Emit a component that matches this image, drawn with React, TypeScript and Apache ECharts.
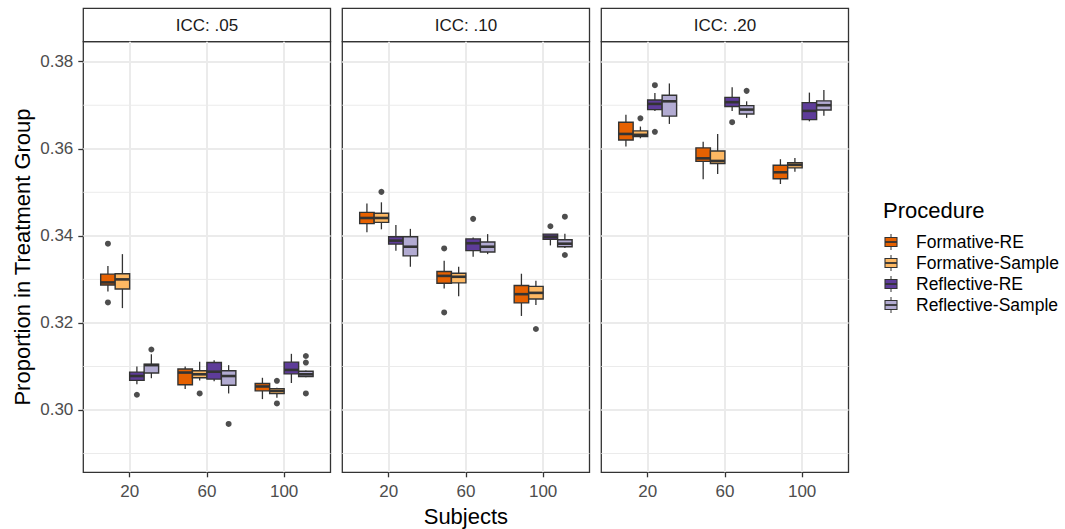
import React, { useEffect, useRef } from "react";
import * as echarts from "echarts";

const panelTitles = ["ICC: .05", "ICC: .10", "ICC: .20"];
const subjects = ["20", "60", "100"];
const procedures = ["Formative-RE", "Formative-Sample", "Reflective-RE", "Reflective-Sample"];
const procColors = ["#E66101", "#FDB863", "#5E3C99", "#B2ABD2"];
const yTicks = [0.3, 0.32, 0.34, 0.36, 0.38];
const yMinorTicks = [0.29, 0.31, 0.33, 0.35, 0.37];

// [lower whisker, Q1, median, Q3, upper whisker] for Subjects 20, 60, 100
const icc05FormativeRE = [
  [0.3272, 0.3287, 0.3293, 0.3312, 0.3331],
  [0.3048, 0.3058, 0.3086, 0.3094, 0.31],
  [0.3025, 0.3044, 0.3054, 0.3061, 0.3074],
];
const icc05FormativeSample = [
  [0.3234, 0.3278, 0.33, 0.3313, 0.3358],
  [0.3068, 0.3074, 0.3082, 0.309, 0.3111],
  [0.3028, 0.3038, 0.3044, 0.3049, 0.3051],
];
const icc05ReflectiveRE = [
  [0.3059, 0.3068, 0.3078, 0.3087, 0.31],
  [0.3066, 0.3071, 0.3088, 0.3109, 0.3114],
  [0.3062, 0.3083, 0.3092, 0.311, 0.3129],
];
const icc05ReflectiveSample = [
  [0.3073, 0.3085, 0.3103, 0.3105, 0.3128],
  [0.3038, 0.3057, 0.3078, 0.309, 0.3103],
  [0.3075, 0.3077, 0.3082, 0.3089, 0.3091],
];
// [procedure index, subject index, value]
const icc05Outliers = [
  [0, 0, 0.3382], [0, 0, 0.3247],
  [1, 1, 0.3038], [1, 2, 0.3067], [1, 2, 0.3015],
  [2, 0, 0.3035],
  [3, 0, 0.3139], [3, 1, 0.2968], [3, 2, 0.3124], [3, 2, 0.3109], [3, 2, 0.3038],
];

const icc10FormativeRE = [
  [0.3408, 0.3428, 0.3441, 0.3454, 0.3474],
  [0.3279, 0.3291, 0.3308, 0.3318, 0.3343],
  [0.3216, 0.3246, 0.3266, 0.3286, 0.3313],
];
const icc10FormativeSample = [
  [0.3415, 0.3431, 0.3441, 0.3452, 0.3477],
  [0.3261, 0.3292, 0.3306, 0.3314, 0.3329],
  [0.3241, 0.3255, 0.3269, 0.3284, 0.3297],
];
const icc10ReflectiveRE = [
  [0.3366, 0.3381, 0.3389, 0.3398, 0.3425],
  [0.3352, 0.3366, 0.3383, 0.3393, 0.3396],
  [0.3378, 0.3392, 0.3398, 0.3404, 0.3404],
];
const icc10ReflectiveSample = [
  [0.3329, 0.3354, 0.3375, 0.3398, 0.3416],
  [0.3358, 0.3363, 0.3375, 0.3386, 0.3404],
  [0.3372, 0.3375, 0.3382, 0.3391, 0.3405],
];
const icc10Outliers = [
  [0, 1, 0.3371], [0, 1, 0.3224],
  [1, 0, 0.3501], [1, 2, 0.3186],
  [2, 1, 0.3439], [2, 2, 0.3422],
  [3, 2, 0.3444], [3, 2, 0.3356],
];

const icc20FormativeRE = [
  [0.3605, 0.362, 0.3634, 0.3661, 0.3678],
  [0.353, 0.3571, 0.3578, 0.3602, 0.3616],
  [0.3519, 0.3531, 0.3546, 0.3562, 0.3576],
];
const icc20FormativeSample = [
  [0.3624, 0.3628, 0.3632, 0.3641, 0.3651],
  [0.3542, 0.3566, 0.3572, 0.3595, 0.3634],
  [0.3547, 0.3556, 0.3563, 0.3568, 0.3579],
];
const icc20ReflectiveRE = [
  [0.3687, 0.369, 0.3703, 0.3712, 0.3728],
  [0.3687, 0.3697, 0.3707, 0.3718, 0.3741],
  [0.3663, 0.3667, 0.3687, 0.3706, 0.3729],
];
const icc20ReflectiveSample = [
  [0.3657, 0.3675, 0.3709, 0.3723, 0.375],
  [0.3671, 0.368, 0.369, 0.3699, 0.3709],
  [0.3676, 0.3689, 0.37, 0.371, 0.3735],
];
const icc20Outliers = [
  [1, 0, 0.367],
  [2, 0, 0.3746], [2, 0, 0.3639], [2, 1, 0.3661],
  [3, 1, 0.3733],
];

const panelBoxes = [
  [icc05FormativeRE, icc05FormativeSample, icc05ReflectiveRE, icc05ReflectiveSample],
  [icc10FormativeRE, icc10FormativeSample, icc10ReflectiveRE, icc10ReflectiveSample],
  [icc20FormativeRE, icc20FormativeSample, icc20ReflectiveRE, icc20ReflectiveSample],
];
const panelOutliers = [icc05Outliers, icc10Outliers, icc20Outliers];

// layout
const FONT = "'Liberation Sans', Arial, Helvetica, sans-serif";
const PANEL_LEFTS = [83.3, 342.3, 601.3];
const PANEL_W = 247.2;
const GRID_TOP = 41.7;
const GRID_H = 430.6;
const STRIP_TOP = 8.3;
const X_MIN = 0.4;
const X_MAX = 3.6;
const Y_MIN = 0.28569;
const Y_MAX = 0.38459;
const BOX_W = 0.1875;
const dodge = (p: number) => (p - 1.5) * BOX_W;
const LINE = "#333333";

function buildOption() {
  const grids: any[] = [];
  const xAxes: any[] = [];
  const yAxes: any[] = [];
  const series: any[] = [];
  const graphics: any[] = [];

  panelTitles.forEach((title, i) => {
    grids.push({
      left: PANEL_LEFTS[i],
      top: GRID_TOP,
      width: PANEL_W,
      height: GRID_H,
      show: true,
      borderColor: LINE,
      borderWidth: 1.3,
      backgroundColor: "transparent",
    });
    xAxes.push({
      type: "value",
      gridIndex: i,
      min: X_MIN,
      max: X_MAX,
      axisLine: { show: false },
      axisTick: {
        show: true,
        customValues: [1, 2, 3],
        length: 5,
        lineStyle: { color: LINE, width: 1.3 },
      },
      axisLabel: {
        customValues: [1, 2, 3],
        formatter: (v: number) => subjects[Math.round(v) - 1],
        color: "#4D4D4D",
        fontSize: 17,
        fontFamily: FONT,
        margin: 11,
      },
      splitLine: { show: true, lineStyle: { color: "#EBEBEB", width: 2 } },
    });
    yAxes.push({
      type: "value",
      gridIndex: i,
      min: Y_MIN,
      max: Y_MAX,
      axisLine: { show: false },
      axisTick: {
        show: i === 0,
        customValues: yTicks,
        length: 5,
        lineStyle: { color: LINE, width: 1.3 },
      },
      axisLabel: {
        show: i === 0,
        customValues: yTicks,
        formatter: (v: number) => v.toFixed(2),
        color: "#4D4D4D",
        fontSize: 17,
        fontFamily: FONT,
        margin: 10,
      },
      splitLine: { show: true, lineStyle: { color: "#EBEBEB", width: 2 } },
    });

    // minor horizontal grid lines
    series.push({
      type: "custom",
      xAxisIndex: i,
      yAxisIndex: i,
      z: 1,
      silent: true,
      data: yMinorTicks.map((v) => [v]),
      renderItem: (params: any, api: any) => {
        const v = api.value(0);
        const a = api.coord([X_MIN, v]);
        const b = api.coord([X_MAX, v]);
        return {
          type: "line",
          shape: { x1: a[0], y1: a[1], x2: b[0], y2: b[1] },
          style: { stroke: "#EBEBEB", lineWidth: 1 },
        };
      },
    });

    // boxes
    const boxData: any[] = [];
    panelBoxes[i].forEach((proc, p) => {
      proc.forEach((st, s) => {
        boxData.push([s + 1 + dodge(p), st[0], st[1], st[2], st[3], st[4], p]);
      });
    });
    series.push({
      type: "custom",
      xAxisIndex: i,
      yAxisIndex: i,
      z: 3,
      data: boxData,
      encode: { x: 0, y: [1, 5] },
      renderItem: (params: any, api: any) => {
        const x = api.value(0);
        const p = api.value(6);
        const lo = api.coord([x, api.value(1)]);
        const q1 = api.coord([x, api.value(2)]);
        const md = api.coord([x, api.value(3)]);
        const q3 = api.coord([x, api.value(4)]);
        const hi = api.coord([x, api.value(5)]);
        const hw = api.size([BOX_W, 0])[0] / 2;
        const cx = lo[0];
        return {
          type: "group",
          children: [
            {
              type: "line",
              shape: { x1: cx, y1: q3[1], x2: cx, y2: hi[1] },
              style: { stroke: LINE, lineWidth: 1.3 },
            },
            {
              type: "line",
              shape: { x1: cx, y1: q1[1], x2: cx, y2: lo[1] },
              style: { stroke: LINE, lineWidth: 1.3 },
            },
            {
              type: "rect",
              shape: { x: cx - hw, y: q3[1], width: hw * 2, height: q1[1] - q3[1] },
              style: { fill: procColors[p], stroke: LINE, lineWidth: 1.4 },
            },
            {
              type: "line",
              shape: { x1: cx - hw, y1: md[1], x2: cx + hw, y2: md[1] },
              style: { stroke: LINE, lineWidth: 2.6 },
            },
          ],
        };
      },
    });

    // outliers
    series.push({
      type: "scatter",
      xAxisIndex: i,
      yAxisIndex: i,
      z: 4,
      symbol: "circle",
      symbolSize: 6,
      itemStyle: { color: "#222222" },
      data: panelOutliers[i].map((o) => [o[1] + 1 + dodge(o[0]), o[2]]),
    });

    // strip
    graphics.push({
      type: "rect",
      shape: { x: PANEL_LEFTS[i], y: STRIP_TOP, width: PANEL_W, height: GRID_TOP - STRIP_TOP },
      style: { fill: "#FFFFFF", stroke: LINE, lineWidth: 1.3 },
    });
    graphics.push({
      type: "text",
      x: PANEL_LEFTS[i] + PANEL_W / 2,
      y: (STRIP_TOP + GRID_TOP) / 2,
      style: {
        text: title,
        fill: "#1A1A1A",
        fontSize: 17,
        fontFamily: FONT,
        align: "center",
        verticalAlign: "middle",
      },
    });
  });

  // axis titles
  graphics.push({
    type: "text",
    x: (PANEL_LEFTS[0] + PANEL_LEFTS[2] + PANEL_W) / 2,
    y: 516,
    style: {
      text: "Subjects",
      fill: "#000000",
      fontSize: 22,
      fontFamily: FONT,
      align: "center",
      verticalAlign: "middle",
    },
  });
  graphics.push({
    type: "text",
    x: 22,
    y: GRID_TOP + GRID_H / 2,
    rotation: Math.PI / 2,
    style: {
      text: "Proportion in Treatment Group",
      fill: "#000000",
      fontSize: 22,
      fontFamily: FONT,
      align: "center",
      verticalAlign: "middle",
    },
  });

  // legend
  graphics.push({
    type: "text",
    x: 883,
    y: 210,
    style: {
      text: "Procedure",
      fill: "#000000",
      fontSize: 22,
      fontFamily: FONT,
      align: "left",
      verticalAlign: "middle",
    },
  });
  procedures.forEach((name, k) => {
    const cy = 242 + k * 21;
    const kx = 885;
    const kw = 12;
    graphics.push({
      type: "line",
      shape: { x1: kx + kw / 2, y1: cy - 8, x2: kx + kw / 2, y2: cy + 8 },
      style: { stroke: LINE, lineWidth: 1 },
    });
    graphics.push({
      type: "rect",
      shape: { x: kx, y: cy - 4.5, width: kw, height: 9 },
      style: { fill: procColors[k], stroke: LINE, lineWidth: 1.1 },
    });
    graphics.push({
      type: "line",
      shape: { x1: kx, y1: cy, x2: kx + kw, y2: cy },
      style: { stroke: LINE, lineWidth: 1.8 },
    });
    graphics.push({
      type: "text",
      x: 916,
      y: cy,
      style: {
        text: name,
        fill: "#000000",
        fontSize: 17.5,
        fontFamily: FONT,
        align: "left",
        verticalAlign: "middle",
      },
    });
  });

  return {
    animation: false,
    backgroundColor: "#FFFFFF",
    textStyle: { fontFamily: FONT },
    grid: grids,
    xAxis: xAxes,
    yAxis: yAxes,
    series,
    graphic: graphics,
  };
}

export default function App() {
  const ref = useRef<HTMLDivElement>(null);
  useEffect(() => {
    if (!ref.current) return;
    const chart = echarts.init(ref.current, undefined, { renderer: "svg" });
    chart.setOption(buildOption() as any);
    return () => chart.dispose();
  }, []);
  return (
    <div
      ref={ref}
      style={{ position: "absolute", left: 0, top: 0, width: 1065, height: 529 }}
    />
  );
}
